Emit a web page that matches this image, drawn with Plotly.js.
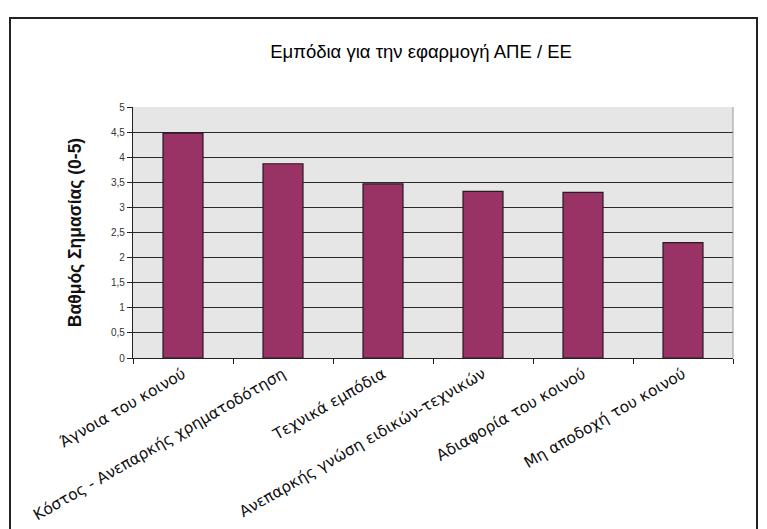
<!DOCTYPE html>
<html>
<head>
<meta charset="utf-8">
<script src="https://cdn.plot.ly/plotly-3.0.1.min.js"></script>
<style>html,body{margin:0;padding:0;background:#fff;}#chart{width:767px;height:529px;}</style>
</head>
<body>
<div id="chart"></div>
<script>
const categories = [
  "Άγνοια του κοινού",
  "Κόστος - Ανεπαρκής χρηματοδότηση",
  "Τεχνικά εμπόδια",
  "Ανεπαρκής γνώση ειδικών-τεχνικών",
  "Αδιαφορία του κοινού",
  "Μη αποδοχή του κοινού"
];
const importance = [4.48, 3.87, 3.47, 3.32, 3.30, 2.30];
const yTicks = [0, 0.5, 1, 1.5, 2, 2.5, 3, 3.5, 4, 4.5, 5];
const yTickLabels = ["0", "0,5", "1", "1,5", "2", "2,5", "3", "3,5", "4", "4,5", "5"];

const trace = {
  type: 'bar',
  x: categories,
  y: importance,
  marker: {color: '#993366', line: {color: '#2a1a22', width: 1.2}},
  hoverinfo: 'x+y'
};

const layout = {
  width: 767, height: 529,
  margin: {l: 133, r: 34, t: 107, b: 171},
  paper_bgcolor: '#ffffff',
  plot_bgcolor: '#e6e6e6',
  bargap: 0.6,
  showlegend: false,
  separators: ',.',
  title: {
    text: 'Εμπόδια για την εφαρμογή ΑΠΕ / ΕΕ',
    font: {family: 'Liberation Sans, Arial, sans-serif', size: 18.5, color: '#000'},
    xref: 'paper', x: 0.48, xanchor: 'center',
    yref: 'container', y: 0.902, yanchor: 'middle'
  },
  xaxis: {
    type: 'category',
    tickangle: -30,
    tickfont: {family: 'DejaVu Sans, Tahoma, sans-serif', size: 15.5, color: '#111'},
    ticks: 'outside', ticklen: 5, tickcolor: '#222', tickson: 'boundaries',
    showline: true, linecolor: '#222', linewidth: 1.2,
    showgrid: false, zeroline: false, automargin: false
  },
  yaxis: {
    range: [0, 5],
    tickvals: yTicks,
    ticktext: yTickLabels,
    tickfont: {family: 'Liberation Sans, Arial, sans-serif', size: 10, color: '#333'},
    ticks: 'outside', ticklen: 5, tickcolor: '#222',
    showline: true, linecolor: '#222', linewidth: 1.2,
    showgrid: true, gridcolor: '#2a2a2a', gridwidth: 1,
    zeroline: false, automargin: false,
    title: {
      text: 'Βαθμός Σημασίας (0-5)',
      font: {family: 'Liberation Sans, Arial, sans-serif', size: 17.5, color: '#111', weight: 'bold'},
      standoff: 24
    }
  },
  shapes: [
    {type: 'line', xref: 'paper', yref: 'paper', x0: 1, x1: 1, y0: 0, y1: 1,
     line: {color: '#999', width: 1}},
    {type: 'rect', xref: 'paper', yref: 'paper', x0: -0.205, x1: 1.04, y0: -0.72, y1: 1.355,
     line: {color: '#222', width: 2}, fillcolor: 'rgba(0,0,0,0)', layer: 'below'}
  ]
};

Plotly.newPlot('chart', [trace], layout, {displayModeBar: false, staticPlot: true});
</script>
</body>
</html>
